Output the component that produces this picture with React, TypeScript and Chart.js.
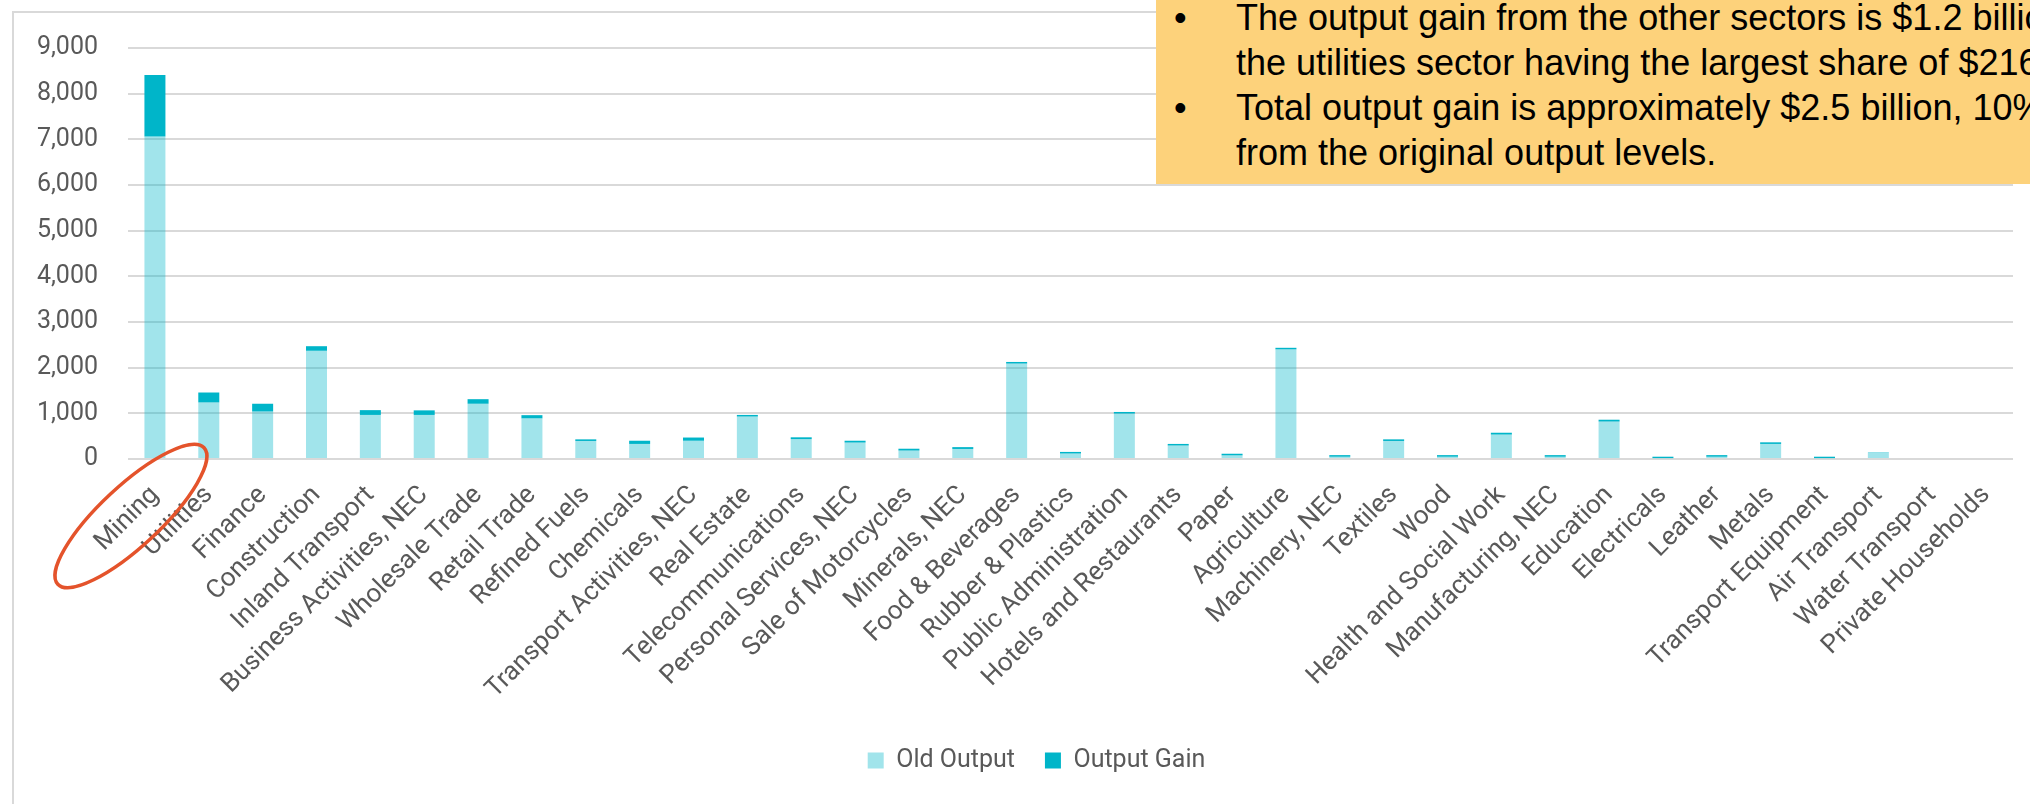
import React, { useEffect, useRef } from "react";
import { Chart, registerables } from "chart.js";

Chart.register(...registerables);

const categories = [
  "Mining", "Utilities", "Finance", "Construction", "Inland Transport",
  "Business Activities, NEC", "Wholesale Trade", "Retail Trade", "Refined Fuels",
  "Chemicals", "Transport Activities, NEC", "Real Estate", "Telecommunications",
  "Personal Services, NEC", "Sale of Motorcycles", "Minerals, NEC", "Food & Beverages",
  "Rubber & Plastics", "Public Administration", "Hotels and Restaurants", "Paper",
  "Agriculture", "Machinery, NEC", "Textiles", "Wood", "Health and Social Work",
  "Manufacturing, NEC", "Education", "Electricals", "Leather", "Metals",
  "Transport Equipment", "Air Transport", "Water Transport", "Private Households",
];

const oldOutput = [
  7060, 1240, 1040, 2370, 965, 965, 1210, 890, 395, 330, 400, 930, 435, 360, 185,
  220, 2090, 120, 995, 295, 80, 2400, 50, 395, 50, 535, 50, 820, 20, 50, 330, 20,
  150, 0, 0,
];

const outputGain = [
  1350, 216, 170, 100, 105, 100, 100, 70, 35, 70, 70, 35, 40, 40, 40, 40, 35, 35,
  35, 35, 35, 35, 35, 35, 35, 40, 35, 40, 30, 35, 35, 30, 3, 0, 0,
];

const yTicks = [0, 1000, 2000, 3000, 4000, 5000, 6000, 7000, 8000, 9000];

const seriesNames = ["Old Output", "Output Gain"];

const noteLines = [
  "The output gain from the other sectors is $1.2 billion, with",
  "the utilities sector having the largest share of $216 million.",
  "Total output gain is approximately $2.5 billion, 10% increase",
  "from the original output levels.",
];
const noteBullets = [true, false, true, false];

const ellipsePlugin = {
  id: "miningEllipse",
  afterDraw(chart: any) {
    const xs = chart.scales.x;
    const ctx = chart.ctx;
    const cx = xs.getPixelForValue(0) - 24;
    const cy = chart.chartArea.bottom + 57;
    ctx.save();
    ctx.beginPath();
    ctx.ellipse(cx, cy, 100, 30, (-43 * Math.PI) / 180, 0, Math.PI * 2);
    ctx.strokeStyle = "#E4532B";
    ctx.lineWidth = 3.5;
    ctx.stroke();
    ctx.restore();
  },
};

const legendShiftPlugin = {
  id: "legendShift",
  afterLayout(chart: any) {
    const lg = chart.legend;
    if (lg) {
      lg.left += 23;
      lg.right += 23;
    }
  },
};

function App() {
  const ref = useRef<HTMLCanvasElement | null>(null);

  useEffect(() => {
    if (!ref.current) return;
    Chart.defaults.font.family = "Roboto";
    const chart = new Chart(ref.current, {
      type: "bar",
      data: {
        labels: categories,
        datasets: [
          {
            label: seriesNames[0],
            data: oldOutput,
            backgroundColor: "rgba(0,181,201,0.37)",
            borderWidth: 0,
            categoryPercentage: 1,
            barPercentage: 0.39,
          },
          {
            label: seriesNames[1],
            data: outputGain,
            backgroundColor: "#00B5C9",
            borderWidth: 0,
            categoryPercentage: 1,
            barPercentage: 0.39,
          },
        ],
      },
      options: {
        animation: false,
        responsive: false,
        devicePixelRatio: 1,
        layout: { padding: { top: 48, right: 17, left: 14, bottom: 21 } },
        plugins: {
          legend: {
            position: "bottom",
            labels: {
              font: { size: 25, family: "Roboto" },
              color: "#595959",
              boxWidth: 16,
              boxHeight: 16,
              padding: 30,
            },
          },
          tooltip: { enabled: false },
          title: { display: false },
        },
        scales: {
          x: {
            stacked: true,
            grid: { display: false, drawTicks: false },
            border: { display: false },
            ticks: {
              autoSkip: false,
              minRotation: 45,
              maxRotation: 45,
              padding: 21,
              color: "#595959",
              font: { size: 26, family: "Roboto" },
            },
            afterFit(scale: any) {
              scale.height = 259;
            },
          },
          y: {
            stacked: true,
            min: 0,
            max: 9000,
            afterBuildTicks(scale: any) {
              scale.ticks = yTicks.map((v) => ({ value: v }));
            },
            grid: { color: "#D9D9D9", lineWidth: 2, drawTicks: false },
            border: { display: false },
            ticks: {
              padding: 30,
              color: "#595959",
              font: { size: 25, family: "Roboto" },
              callback: (v: any) => Number(v).toLocaleString("en-US"),
            },
            afterFit(scale: any) {
              scale.width = 114;
            },
          },
        },
      },
      plugins: [ellipsePlugin, legendShiftPlugin],
    });
    return () => chart.destroy();
  }, []);

  return (
    <div
      style={{
        position: "fixed",
        left: 0,
        top: 0,
        width: 2030,
        height: 804,
        overflow: "hidden",
        background: "#fff",
      }}
    >
      <div
        style={{
          position: "absolute",
          left: 12,
          top: 11,
          width: 2200,
          height: 1000,
          border: "2px solid #D9D9D9",
        }}
      />
      <canvas
        ref={ref}
        width={2030}
        height={804}
        style={{ position: "absolute", left: 0, top: 0, width: 2030, height: 804 }}
      />
      <div
        style={{
          position: "absolute",
          left: 1156,
          top: 0,
          width: 874,
          height: 184,
          background: "#FDD27B",
          overflow: "hidden",
          fontFamily: '"Liberation Sans", Arial, sans-serif',
          fontSize: 36,
          lineHeight: "45px",
          color: "#000",
          whiteSpace: "nowrap",
        }}
      >
        {noteLines.map((line, i) => (
          <React.Fragment key={i}>
            {noteBullets[i] && (
              <span style={{ position: "absolute", left: 18, top: -5 + i * 45 }}>•</span>
            )}
            <span style={{ position: "absolute", left: 80, top: -5 + i * 45 }}>{line}</span>
          </React.Fragment>
        ))}
      </div>
    </div>
  );
}

export default App;
